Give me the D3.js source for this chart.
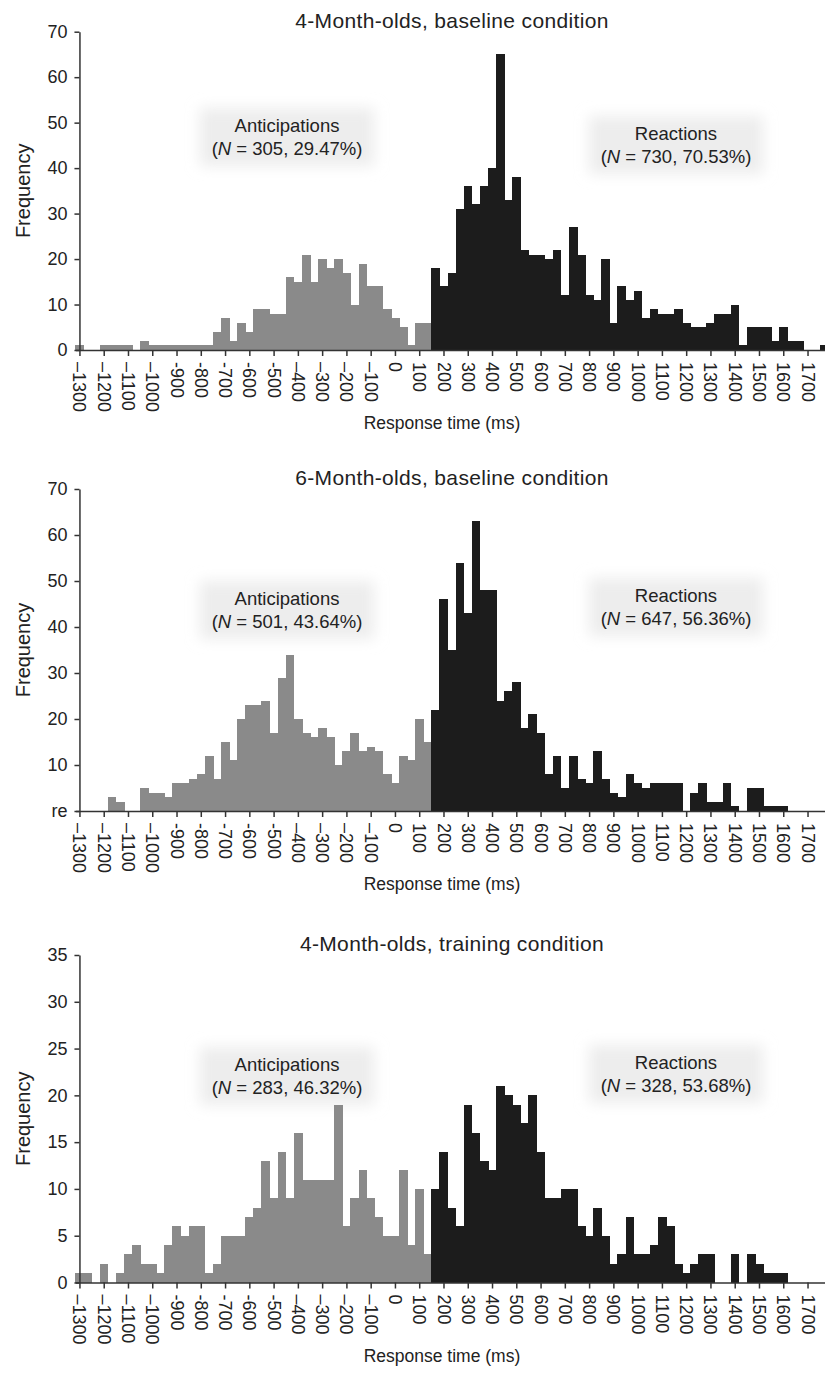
<!DOCTYPE html>
<html>
<head>
<meta charset="utf-8">
<script src="https://cdn.jsdelivr.net/npm/d3@7/dist/d3.min.js"></script>
<style>
  body { margin: 0; background: #fff; }
  svg { display: block; font-family: "Liberation Sans", Arial, sans-serif; }
  .tick text { fill: #222; font-size: 18px; }
  .domain, .tick line { stroke: #333; stroke-width: 1.5px; }
  .bar { shape-rendering: crispEdges; }
</style>
</head>
<body>
<svg id="chart"></svg>
<script>
// bins are 1/30 s wide; the bin edge at 150 ms splits anticipations from reactions
const binWidth = 100 / 3;
const firstBinStart = -1316.67;
const reactionStart = 150;

const xTickValues = [-1300, -1200, -1100, -1000, -900, -800, -700, -600, -500, -400, -300, -200, -100,
    0, 100, 200, 300, 400, 500, 600, 700, 800, 900, 1000, 1100, 1200, 1300, 1400, 1500, 1600, 1700];
const xTickLabels = ["\u20131300", "\u20131200", "\u20131100", "\u20131000", "-900", "-800", "-700", "-600", "-500",
    "\u2013400", "\u2013300", "\u2013200", "\u2013100", "0", "100", "200", "300", "400", "500", "600", "700",
    "800", "900", "1000", "1100", "1200", "1300", "1400", "1500", "1600", "1700"];

// frequency per bin, bin 0 starts at firstBinStart
const counts4Base = [
    1, 0, 0, 1, 1, 1, 1, 0, 2, 1,
    1, 1, 1, 1, 1, 1, 1, 4, 7, 2,
    6, 4, 9, 9, 8, 8, 16, 15, 21, 15,
    20, 18, 20, 17, 10, 19, 14, 14, 9, 7,
    5, 1, 6, 6, 18, 14, 17, 31, 36, 32,
    36, 40, 65, 33, 38, 22, 21, 21, 20, 22,
    12, 27, 21, 12, 11, 20, 6, 14, 11, 13,
    7, 9, 8, 8, 9, 6, 5, 5, 6, 8,
    8, 10, 1, 5, 5, 5, 2, 5, 2, 2,
    0, 0, 1];
const counts6Base = [
    0, 0, 0, 0, 3, 2, 0, 0, 5, 4,
    4, 3, 6, 6, 7, 8, 12, 7, 15, 11,
    20, 23, 23, 24, 17, 29, 34, 20, 17, 16,
    18, 16, 10, 13, 17, 13, 14, 13, 8, 6,
    12, 11, 20, 15, 22, 46, 35, 54, 43, 63,
    48, 48, 24, 26, 28, 18, 21, 17, 8, 12,
    5, 12, 7, 6, 13, 7, 4, 3, 8, 6,
    5, 6, 6, 6, 6, 0, 4, 6, 2, 2,
    6, 1, 0, 5, 5, 1, 1, 1, 0, 0,
    0, 0, 0];
const counts4Train = [
    1, 1, 0, 2, 0, 1, 3, 4, 2, 2,
    1, 4, 6, 5, 6, 6, 1, 2, 5, 5,
    5, 7, 8, 13, 9, 14, 9, 16, 11, 11,
    11, 11, 19, 6, 9, 12, 9, 7, 5, 5,
    12, 4, 10, 3, 10, 14, 8, 6, 19, 16,
    13, 12, 21, 20, 19, 17, 20, 14, 9, 9,
    10, 10, 6, 5, 8, 5, 2, 3, 7, 3,
    3, 4, 7, 6, 2, 1, 2, 3, 3, 0,
    0, 3, 0, 3, 2, 1, 1, 1, 0, 0,
    0, 0, 0];

const titles = ["4-Month-olds, baseline condition", "6-Month-olds, baseline condition", "4-Month-olds, training condition"];
const yMaxes = [70, 70, 35];
const yTicksBase = [0, 10, 20, 30, 40, 50, 60, 70];
const yLabels4Base = ["0", "10", "20", "30", "40", "50", "60", "70"];
const yLabels6Base = ["re", "10", "20", "30", "40", "50", "60", "70"];
const yTicksTrain = [0, 5, 10, 15, 20, 25, 30, 35];
const yLabelsTrain = ["0", "5", "10", "15", "20", "25", "30", "35"];

const anticipN = [305, 501, 283];
const anticipPct = ["29.47%", "43.64%", "46.32%"];
const reactN = [730, 647, 328];
const reactPct = ["70.53%", "56.36%", "53.68%"];

const panels = [
    { counts: counts4Base, yTicks: yTicksBase, yLabels: yLabels4Base },
    { counts: counts6Base, yTicks: yTicksBase, yLabels: yLabels6Base },
    { counts: counts4Train, yTicks: yTicksTrain, yLabels: yLabelsTrain }
];

// layout
let width = 825;
let height = 1381;
let plotTop = [31.7, 489, 955];
let plotBase = [350, 811, 1282.5];
let antY = [132, 605, 1071];
let reaY = [140, 602, 1069];

let svg = d3.select("#chart").attr("width", width).attr("height", height);

svg.append("defs")
    .append("filter")
    .attr("id", "glow")
    .attr("x", "-30%").attr("y", "-50%")
    .attr("width", "160%").attr("height", "200%")
    .append("feGaussianBlur")
    .attr("stdDeviation", 7);

let xScale = d3.scaleLinear()
    .domain([firstBinStart, 1772])
    .range([75.4, 825]);

let drawNote = (g, cx, y, name, n, pct) => {
    let note = g.append("g");
    let box = note.append("rect");
    let t1 = note.append("text")
        .attr("x", cx).attr("y", y)
        .attr("text-anchor", "middle")
        .style("font-size", "18.5px").style("fill", "#222")
        .text(name);
    let t2 = note.append("text")
        .attr("x", cx).attr("y", y + 23)
        .attr("text-anchor", "middle")
        .style("font-size", "18.5px").style("fill", "#222");
    t2.append("tspan").text("(");
    t2.append("tspan").style("font-style", "italic").text("N");
    t2.append("tspan").text(" = " + n + ", " + pct + ")");
    let w = Math.max(t1.node().getComputedTextLength(), t2.node().getComputedTextLength());
    box.attr("x", cx - w / 2 - 12)
        .attr("y", y - 24)
        .attr("width", w + 24)
        .attr("height", 58)
        .attr("fill", "#ededed")
        .attr("filter", "url(#glow)");
}

panels.forEach((p, k) => {
    let g = svg.append("g");

    let yScale = d3.scaleLinear()
        .domain([0, yMaxes[k]])
        .range([plotBase[k], plotTop[k]]);

    drawNote(g, 287, antY[k], "Anticipations", anticipN[k], anticipPct[k]);
    drawNote(g, 676, reaY[k], "Reactions", reactN[k], reactPct[k]);

    let bins = p.counts
        .map((c, i) => ({ start: firstBinStart + i * binWidth, count: c }))
        .filter(b => b.count > 0);

    g.selectAll(".bar")
        .data(bins)
        .enter()
        .append("rect")
        .attr("class", "bar")
        .attr("x", d => xScale(d.start))
        .attr("width", d => xScale(d.start + binWidth) - xScale(d.start) + 0.6)
        .attr("y", d => yScale(d.count))
        .attr("height", d => yScale(0) - yScale(d.count))
        .attr("fill", d => d.start >= reactionStart - 1 ? "#1c1c1c" : "#8a8a8a");

    let xAxis = d3.axisBottom(xScale)
        .tickValues(xTickValues)
        .tickFormat((d, i) => xTickLabels[i])
        .tickSize(6)
        .tickSizeOuter(0);

    let xg = g.append("g")
        .attr("transform", `translate(0,${plotBase[k]})`)
        .call(xAxis);
    xg.selectAll(".tick text")
        .attr("transform", "rotate(90)")
        .attr("x", 12)
        .attr("y", 0)
        .attr("dy", "0.36em")
        .style("text-anchor", "start");

    let yAxis = d3.axisLeft(yScale)
        .tickValues(p.yTicks)
        .tickFormat((d, i) => p.yLabels[i])
        .tickSize(5)
        .tickPadding(7)
        .tickSizeOuter(0);

    g.append("g")
        .attr("transform", `translate(${xScale(-1300)},0)`)
        .call(yAxis);

    g.append("text")
        .attr("x", 452)
        .attr("y", plotTop[k] - 4)
        .attr("text-anchor", "middle")
        .style("font-size", "21px")
        .style("letter-spacing", "0.35px")
        .style("fill", "#222")
        .text(titles[k]);

    g.append("text")
        .attr("transform", `translate(30,${(plotTop[k] + plotBase[k]) / 2}) rotate(-90)`)
        .attr("text-anchor", "middle")
        .style("font-size", "20px")
        .style("fill", "#222")
        .text("Frequency");

    g.append("text")
        .attr("x", 442)
        .attr("y", plotBase[k] + 79)
        .attr("text-anchor", "middle")
        .style("font-size", "17.5px")
        .style("fill", "#222")
        .text("Response time (ms)");
});
</script>
</body>
</html>
